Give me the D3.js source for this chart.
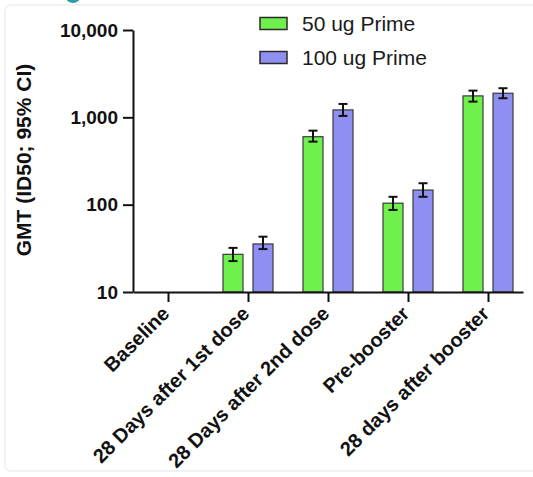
<!DOCTYPE html>
<html>
<head>
<meta charset="utf-8">
<script src="https://d3js.org/d3.v7.min.js"></script>
<style>
  body { margin: 0; background: #ffffff; }
  svg { display: block; }
</style>
</head>
<body>
<svg id="drawing_region"></svg>
<script>
// categories along the x axis
const categories = ["Baseline", "28 Days after 1st dose", "28 Days after 2nd dose", "Pre-booster", "28 days after booster"];
const seriesNames = ["50 ug Prime", "100 ug Prime"];

// GMT values and 95% CI (baseline is below the axis, so no bar)
const gmt50  = [null, 27, 600, 104, 1760];
const lo50   = [null, 22.6, 527, 87, 1513];
const hi50   = [null, 32, 704, 123, 2022];
const gmt100 = [null, 35.5, 1216, 147, 1888];
const lo100  = [null, 31, 1038, 123, 1655];
const hi100  = [null, 43, 1423, 176, 2155];

const yTicks = [10, 100, 1000, 10000];

class GroupedBar {
    constructor( config ) {
        this.config = config;
        this.init();
    }

    init() {
        let self = this;
        self.svg = d3.select(self.config.parent)
            .attr('width', self.config.width)
            .attr('height', self.config.height);

        self.xscale = d3.scalePoint()
            .domain(categories)
            .range([133, 523])
            .padding(0.4375);

        self.yscale = d3.scaleLog()
            .domain([10, 10000])
            .range([292, 30]);

        self.color = d3.scaleOrdinal()
            .domain(seriesNames)
            .range(['#70f04c', '#8f8ff2']);
    }

    render() {
        let self = this;
        const font = "Arial, 'Liberation Sans', sans-serif";

        // faint panel frame
        self.svg.append('rect')
            .attr('x', 5).attr('y', 5)
            .attr('width', 560).attr('height', 466)
            .attr('rx', 6)
            .attr('fill', 'none')
            .attr('stroke', '#edf0f0')
            .attr('stroke-width', 1.5);

        // cut-off icon at the top
        self.svg.append('circle')
            .attr('cx', 73).attr('cy', -5).attr('r', 8)
            .attr('fill', '#2b9ea6');

        // flatten to rows
        let rows = [];
        categories.forEach((c, i) => {
            rows.push({cat: c, s: 0, v: gmt50[i], lo: lo50[i], hi: hi50[i]});
            rows.push({cat: c, s: 1, v: gmt100[i], lo: lo100[i], hi: hi100[i]});
        });
        rows = rows.filter(d => d.v != null);

        const barW = 20, gap = 10;
        const xLeft = d => self.xscale(d.cat) + (d.s === 0 ? -gap / 2 - barW : gap / 2);

        self.svg.append('g').selectAll('rect')
            .data(rows)
            .join('rect')
            .attr('x', xLeft)
            .attr('width', barW)
            .attr('y', d => self.yscale(d.v))
            .attr('height', d => self.yscale(10) - self.yscale(d.v))
            .attr('fill', d => self.color(seriesNames[d.s]))
            .attr('stroke', '#3a3a3a')
            .attr('stroke-width', 1.2);

        // error bars
        const eb = self.svg.append('g').selectAll('g')
            .data(rows)
            .join('g')
            .attr('stroke', '#111')
            .attr('stroke-width', 2);
        eb.append('line')
            .attr('x1', d => xLeft(d) + barW / 2).attr('x2', d => xLeft(d) + barW / 2)
            .attr('y1', d => self.yscale(d.lo)).attr('y2', d => self.yscale(d.hi));
        eb.append('line')
            .attr('x1', d => xLeft(d) + barW / 2 - 4.5).attr('x2', d => xLeft(d) + barW / 2 + 4.5)
            .attr('y1', d => self.yscale(d.hi)).attr('y2', d => self.yscale(d.hi));
        eb.append('line')
            .attr('x1', d => xLeft(d) + barW / 2 - 4.5).attr('x2', d => xLeft(d) + barW / 2 + 4.5)
            .attr('y1', d => self.yscale(d.lo)).attr('y2', d => self.yscale(d.lo));

        // y axis
        const yAxis = self.svg.append('g')
            .attr('transform', 'translate(133,0)')
            .call(d3.axisLeft(self.yscale)
                .tickValues(yTicks)
                .tickFormat(d3.format(','))
                .tickSize(10)
                .tickSizeOuter(0)
                .tickPadding(5));
        yAxis.selectAll('path, line').attr('stroke', '#111').attr('stroke-width', 2);
        yAxis.selectAll('text')
            .attr('fill', '#111')
            .style('font', `bold 19px ${font}`);

        // x axis
        const xAxis = self.svg.append('g')
            .attr('transform', 'translate(0,292)')
            .call(d3.axisBottom(self.xscale)
                .tickSize(10)
                .tickSizeOuter(0));
        xAxis.selectAll('path, line').attr('stroke', '#111').attr('stroke-width', 2);
        xAxis.selectAll('text')
            .attr('x', 0).attr('y', 0).attr('dy', 0)
            .attr('transform', 'translate(2,23) rotate(-45)')
            .style('text-anchor', 'end')
            .attr('fill', '#111')
            .style('font', `bold 20px ${font}`);

        // y title
        self.svg.append('text')
            .attr('transform', 'translate(31,160) rotate(-90)')
            .style('text-anchor', 'middle')
            .style('font', `bold 21px ${font}`)
            .attr('fill', '#111')
            .text('GMT (ID50; 95% CI)');

        // legend
        const lg = self.svg.append('g').selectAll('g')
            .data(seriesNames)
            .join('g')
            .attr('transform', (d, i) => `translate(260, ${17.5 + i * 34})`);
        lg.append('rect')
            .attr('width', 27).attr('height', 12)
            .attr('fill', d => self.color(d))
            .attr('stroke', '#2a2a2a')
            .attr('stroke-width', 1.5);
        lg.append('text')
            .attr('x', 42).attr('y', 13.5)
            .style('font', `21px ${font}`)
            .attr('fill', '#1a1a1a')
            .text(d => d);
    }
}

let chart = new GroupedBar({ parent: '#drawing_region', width: 533, height: 477 });
chart.render();
</script>
</body>
</html>
